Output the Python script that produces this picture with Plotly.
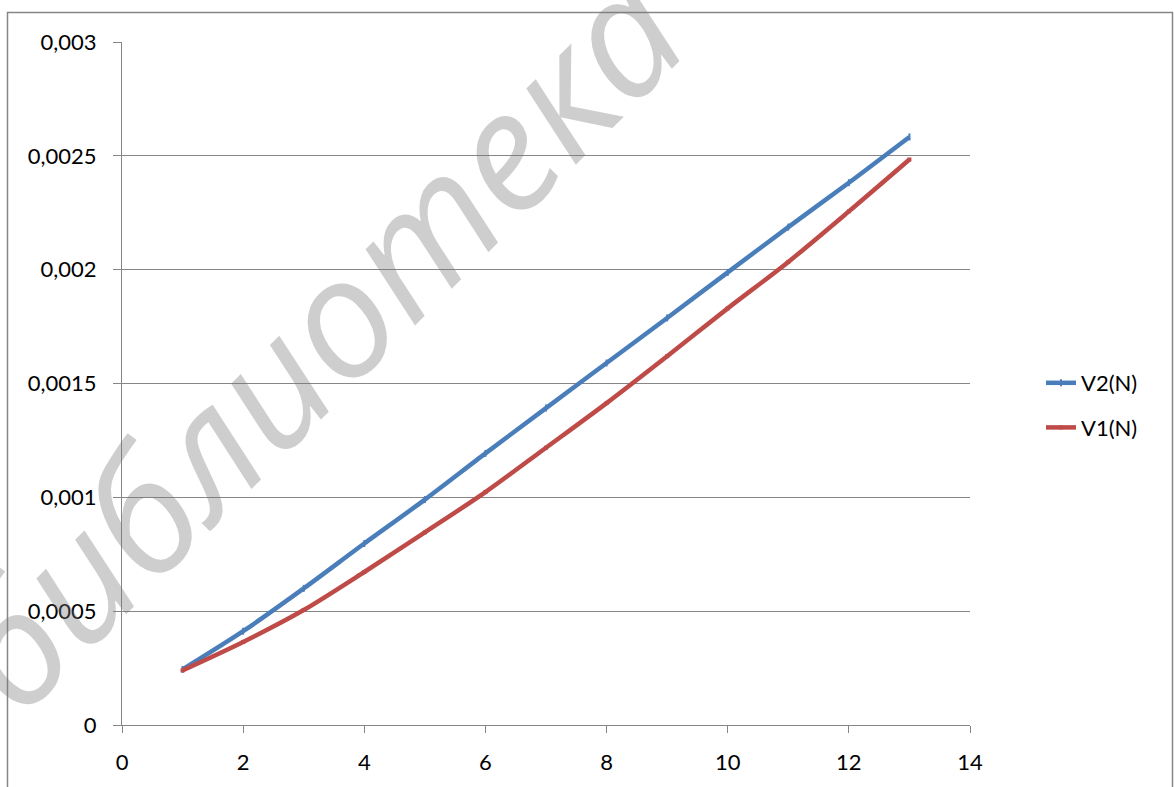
import plotly.graph_objects as go

# Number of elements N
n_values = [1, 2, 3, 4, 5, 6, 7, 8, 9, 10, 11, 12, 13]

# V2(N) and V1(N)
v2_values = [0.000244, 0.000412, 0.000600, 0.000797, 0.000990, 0.001193, 0.001392,
             0.001590, 0.001788, 0.001988, 0.002187, 0.002382, 0.002583]
v1_values = [0.000240, 0.000365, 0.000505, 0.000672, 0.000846, 0.001023, 0.001218,
             0.001414, 0.001620, 0.001830, 0.002034, 0.002256, 0.002484]

y_tick_values = [0, 0.0005, 0.001, 0.0015, 0.002, 0.0025, 0.003]
y_tick_labels = ["0", "0,0005", "0,001", "0,0015", "0,002", "0,0025", "0,003"]
x_tick_values = [0, 2, 4, 6, 8, 10, 12, 14]

W, H = 1174, 787
L, R, T, B = 122, 204, 42, 62
PW, PH = W - L - R, H - T - B

GRID = "#868686"
FONT = "Lato"


def px_x(p):
    return (p - L) / PW


def px_y(p):
    return (H - B - p) / PH


fig = go.Figure()
fig.add_trace(go.Scatter(
    x=n_values, y=v2_values, name="V2(N)", mode="lines+markers",
    line=dict(color="#4A7EBB", width=4.5, shape="spline", smoothing=0.8),
    marker=dict(symbol="line-ns", size=5, color="#4A7EBB",
                line=dict(color="#4A7EBB", width=2)),
    legendgroup="a",
))
fig.add_trace(go.Scatter(
    x=n_values, y=v1_values, name="V1(N)", mode="lines+markers",
    line=dict(color="#BE4B48", width=4.5, shape="spline", smoothing=0.8),
    marker=dict(symbol="square", size=4, color="#BE4B48"),
    legendgroup="b",
))

fig.update_xaxes(
    range=[0, 14], tickvals=x_tick_values, showgrid=False, zeroline=False,
    showline=True, linecolor=GRID, linewidth=1,
    ticks="outside", ticklen=7, tickcolor=GRID, tickwidth=1,
    tickfont=dict(family=FONT, size=22, color="#000000"),
    ticklabelstandoff=11,
)
fig.update_yaxes(
    range=[0, 0.003], tickvals=y_tick_values, ticktext=y_tick_labels,
    showgrid=True, gridcolor=GRID, gridwidth=1, zeroline=False,
    showline=True, linecolor=GRID, linewidth=1,
    ticks="outside", ticklen=8, tickcolor=GRID, tickwidth=1,
    tickfont=dict(family=FONT, size=22, color="#000000"),
    ticklabelstandoff=12,
)

# outer chart frame
fig.add_shape(type="rect", xref="paper", yref="paper",
              x0=px_x(7.5), x1=px_x(1172.5), y0=px_y(800), y1=px_y(12.5),
              line=dict(color=GRID, width=1.5), layer="below")

# watermark
fig.add_annotation(
    text="библиотека", xref="paper", yref="paper",
    x=px_x(312), y=px_y(338), xanchor="center", yanchor="middle",
    textangle=-45, showarrow=False,
    font=dict(family="Open Sans", size=166, style="italic", weight=500,
              color="rgba(120,120,120,0.36)"),
)

fig.update_layout(
    width=W, height=H,
    margin=dict(l=L, r=R, t=T, b=B),
    paper_bgcolor="white", plot_bgcolor="white",
    showlegend=True,
    legend=dict(x=px_x(1041), y=px_y(362), xanchor="left", yanchor="top",
                font=dict(family=FONT, size=22, color="#000000"),
                traceorder="grouped", tracegroupgap=13,
                bgcolor="rgba(0,0,0,0)"),
)

fig.write_html("out.html")
